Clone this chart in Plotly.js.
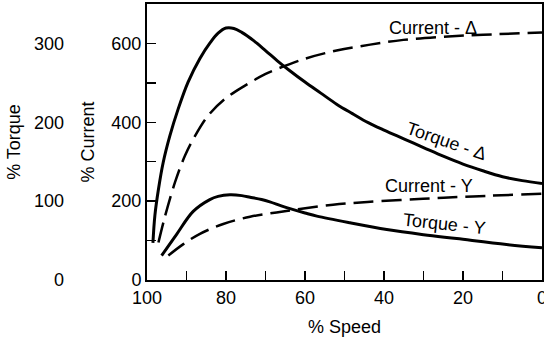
<!DOCTYPE html>
<html>
<head>
<meta charset="utf-8">
<script src="https://cdn.plot.ly/plotly-3.0.1.min.js"></script>
<style>html,body{margin:0;padding:0;background:#fff;}#chart{width:544px;height:338px;}</style>
</head>
<body>
<div id="chart"></div>
<script>
// Torque - Delta (solid), % torque vs % speed
const speedTorqueDelta = [98.5, 98.0, 97.1, 95.9, 94.2, 92.1, 89.6, 86.6, 84, 82, 80, 78, 76, 73, 70, 67, 64, 60, 56, 52, 48, 44, 40, 35, 30, 25, 20, 15, 10, 5, 0];
const torqueDelta      = [47, 82, 115, 149, 183, 217, 251, 281, 301, 313, 319.5, 319, 314, 303.5, 291, 278, 266, 251, 237, 223, 211, 199.5, 190, 179, 168, 157, 147, 138.5, 131, 126, 122.5];
// Current - Delta (dashed), % current vs % speed
const speedCurrentDelta = [97.1, 95.4, 92.9, 90.4, 87.8, 84.5, 80.3, 75.2, 70.1, 67.6, 60.4, 52.0, 43.5, 35.1, 25, 14.9, 0];
const currentDelta      = [95, 163, 248, 315, 366, 417, 459, 493, 522, 533, 560, 582, 597, 609, 617, 622, 628];
// Torque - Y (solid)
const speedTorqueY = [96.3, 92.5, 88.3, 84.1, 82, 79.0, 76, 73.9, 71, 68.9, 66, 63.8, 60, 57.0, 48.6, 39.3, 30, 21.6, 9.0, 0];
const torqueY      = [31, 58, 87, 102, 106, 108, 107, 105, 102, 99, 94, 90.5, 85, 81, 72.5, 64, 57.5, 52.5, 45, 41];
// Current - Y (dashed)
const speedCurrentY = [94.6, 90.8, 86.6, 80.7, 73.9, 67.2, 61.3, 52.9, 44.2, 30.1, 17.5, 0];
const currentY      = [62, 91, 117, 142, 160.5, 171.4, 180, 191, 198, 206, 212, 219];

const seriesLabels = ["Current - \u0394", "Torque - \u0394", "Current - Y", "Torque - Y"];
const xTitle = "% Speed", yTitle = "% Current", y2Title = "% Torque";

const FONT = "Liberation Sans, Arial, Helvetica, sans-serif";
const solid = {color: "#000", width: 3, shape: "spline", smoothing: 1};
const dashed = {color: "#000", width: 2.5, dash: "20px,8px", shape: "spline", smoothing: 1};

const traces = [
  {x: speedTorqueDelta, y: torqueDelta, yaxis: "y2", mode: "lines", line: solid, name: seriesLabels[1]},
  {x: speedCurrentDelta, y: currentDelta, yaxis: "y", mode: "lines", line: dashed, name: seriesLabels[0]},
  {x: speedTorqueY, y: torqueY, yaxis: "y2", mode: "lines", line: solid, name: seriesLabels[3]},
  {x: speedCurrentY, y: currentY, yaxis: "y", mode: "lines", line: dashed, name: seriesLabels[2]}
];

const ann = (text, x, y, angle) => ({text, x, y, xref: "x", yref: "y", showarrow: false,
  textangle: angle, font: {family: FONT, size: 18, color: "#000"}});

const layout = {
  width: 544, height: 338,
  margin: {l: 0, r: 2, t: 4, b: 58},
  paper_bgcolor: "#fff", plot_bgcolor: "#fff",
  showlegend: false,
  font: {family: FONT, size: 18, color: "#000"},
  xaxis: {
    domain: [147/542, 1], range: [100, 0], dtick: 20, tick0: 0,
    ticks: "inside", ticklen: 9, tickwidth: 1.5, tickcolor: "#000",
    minor: {dtick: 10, ticks: "inside", ticklen: 9, tickwidth: 1.5, tickcolor: "#000"},
    showline: true, linewidth: 2, linecolor: "#000", mirror: true,
    showgrid: false, zeroline: false, ticklabeloverflow: "allow",
    title: {text: xTitle, standoff: 14, font: {size: 18}},
    automargin: false
  },
  yaxis: {
    range: [0, 700], dtick: 200, tick0: 0,
    ticks: "inside", ticklen: 9, tickwidth: 1.5, tickcolor: "#000",
    minor: {dtick: 100, ticks: "inside", ticklen: 9, tickwidth: 1.5, tickcolor: "#000"},
    showline: true, linewidth: 2, linecolor: "#000", mirror: true,
    showgrid: false, zeroline: false,
    title: {text: yTitle, standoff: 12, font: {size: 18}},
    automargin: true
  },
  yaxis2: {
    overlaying: "y", anchor: "free", position: 64/542, side: "left",
    range: [0, 350], dtick: 100, tick0: 0,
    ticks: "", showline: false, showgrid: false, zeroline: false,
    title: {text: y2Title, standoff: 7, font: {size: 18}},
    automargin: true
  },
  annotations: [
    ann(seriesLabels[0], 27.6, 640, 0),
    ann(seriesLabels[1], 24.3, 352, 19),
    ann(seriesLabels[2], 28.6, 239, 0),
    ann(seriesLabels[3], 24.6, 143, 6)
  ]
};

Plotly.newPlot("chart", traces, layout, {staticPlot: true, displayModeBar: false});
</script>
</body>
</html>
